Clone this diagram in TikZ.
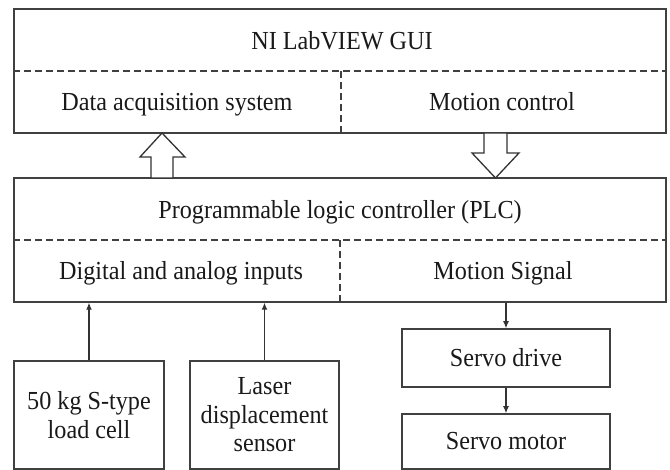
\documentclass[tikz,border=0pt]{standalone}
\usepackage{fontspec}
\setmainfont[FakeStretch=0.93]{Liberation Serif}
\usetikzlibrary{arrows.meta,calc}

\tikzset{
  frame/.style={draw=black!75, line width=1.5pt, rectangle, inner sep=0pt},
  divider/.style={draw=black!75, line width=1.3pt, dash pattern=on 7pt off 4pt},
  label/.style={font=\fontsize{26}{28}\selectfont, text=black!90, inner sep=0pt, anchor=base},
  unit/.style={frame, align=center, font=\fontsize{26}{28.5}\selectfont, text=black!90},
  signal/.style={draw=black!80, line width=1.2pt, -{Latex[length=7pt,width=6pt]}},
  blockarrow/.style={draw=black!80, line width=1.3pt, fill=white, line join=miter}
}

\begin{document}
\begin{tikzpicture}[x=1pt,y=-1pt]
  \useasboundingbox (0,0) rectangle (670,470);

  % upper layer: LabVIEW front end
  \node[frame, minimum width=652pt, minimum height=124pt] (gui) at (340,71) {};
  \draw[divider] (gui.west) -- (gui.east);
  \coordinate (guimid) at (341,71);
  \draw[divider] (guimid) -- (guimid |- gui.south);
  \node[label] (guititle) at (342,50) {NI LabVIEW GUI};
  \node[label] (daq) at (177,111) {Data acquisition system};
  \node[label] (motion) at (502,111) {Motion control};

  % controller layer
  \node[frame, minimum width=652pt, minimum height=124pt] (plc) at (340,240) {};
  \draw[divider] (plc.west) -- (plc.east);
  \coordinate (plcmid) at (340,240);
  \draw[divider] (plcmid) -- (plcmid |- plc.south);
  \node[label] (plctitle) at (340,219) {Programmable logic controller (PLC)};
  \node[label] (inputs) at (181,280) {Digital and analog inputs};
  \node[label] (msignal) at (503,280) {Motion Signal};

  % hollow block arrows between the two layers
  \draw[blockarrow] (151,178) -- (151,157) -- (140,157) -- (162,133)
        -- (185,157) -- (173,157) -- (173,178) -- cycle;
  \draw[blockarrow] (484,133) -- (484,153) -- (472,153) -- (495.5,178)
        -- (519,153) -- (507,153) -- (507,133) -- cycle;

  % field devices
  \node[unit, minimum width=150pt, minimum height=108pt] (load) at (89,415)
        {50 kg S-type\\load cell};
  \node[unit, minimum width=149pt, minimum height=108pt] (laser) at (264.5,415)
        {Laser\\displacement\\sensor};
  \node[unit, minimum width=208pt, minimum height=58pt] (drive) at (506,358)
        {Servo drive};
  \node[unit, minimum width=208pt, minimum height=55pt] (motor) at (506,441.5)
        {Servo motor};

  % signal lines
  \draw[signal] (load.north) -- (load.north |- plc.south);
  \draw[signal] (laser.north) -- (laser.north |- plc.south);
  \draw[signal] (drive.north |- plc.south) -- (drive.north);
  \draw[signal] (drive.south) -- (motor.north);
\end{tikzpicture}
\end{document}
